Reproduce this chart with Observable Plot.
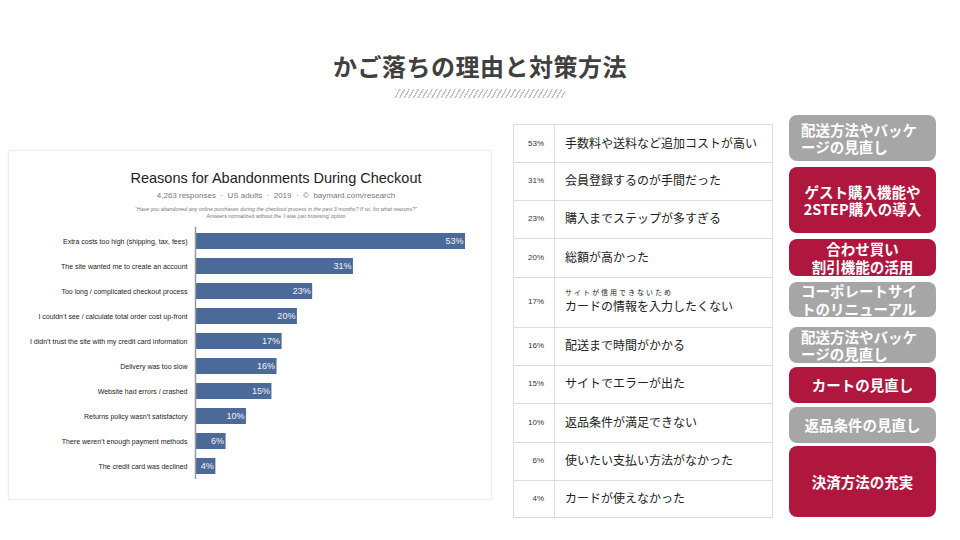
<!DOCTYPE html>
<html><head><meta charset="utf-8">
<script src="https://cdn.jsdelivr.net/npm/d3@7"></script>
<script src="https://cdn.jsdelivr.net/npm/@observablehq/plot@0.6"></script>
<style>
body{margin:0;background:#fff;}
#slide{position:relative;width:960px;height:540px;overflow:hidden;font-family:"Noto Sans CJK JP",sans-serif;background:#fff;}
.abs{position:absolute;}
#title{left:0;width:960px;top:48px;text-align:center;font-size:24px;font-weight:700;color:#404040;letter-spacing:0.5px;}
#hatch{left:395px;top:89px;width:170px;height:9px;background:repeating-linear-gradient(-60deg,transparent 0 2.6px,#c4c4c4 2.6px 4px);}
#card{left:8px;top:150px;width:484px;height:350px;border:1px solid #ececec;box-shadow:0 0 2px rgba(0,0,0,0.06);background:#fff;box-sizing:border-box;}
.en{font-family:"Liberation Sans",Arial,sans-serif;text-align:center;white-space:nowrap;}
.row{left:513px;width:260px;box-sizing:border-box;border:1px solid #dcdcdc;border-top:none;}
.pct{position:absolute;left:0;width:30px;text-align:right;font-family:"Liberation Sans",Arial,sans-serif;font-size:8px;color:#333;}
.vline{position:absolute;left:40px;top:0;bottom:0;border-left:1px solid #dcdcdc;}
.ja{position:absolute;left:51px;font-size:12px;color:#222;white-space:nowrap;}
.box{left:789px;width:147px;border-radius:8px;color:#fff;font-weight:700;font-size:14.5px;line-height:17.5px;display:flex;flex-direction:column;justify-content:center;box-sizing:border-box;white-space:nowrap;}
</style></head><body><div id="slide"></div>
<script>
// ---- data ----
const reasons = [
  "Extra costs too high (shipping, tax, fees)",
  "The site wanted me to create an account",
  "Too long / complicated checkout process",
  "I couldn\u2019t see / calculate total order cost up-front",
  "I didn\u2019t trust the site with my credit card information",
  "Delivery was too slow",
  "Website had errors / crashed",
  "Returns policy wasn\u2019t satisfactory",
  "There weren\u2019t enough payment methods",
  "The credit card was declined"
];
const shares = [53, 31, 23, 20, 17, 16, 15, 10, 6, 4];
const reasonsJa = [
  "手数料や送料など追加コストが高い",
  "会員登録するのが手間だった",
  "購入までステップが多すぎる",
  "総額が高かった",
  "カードの情報を入力したくない",
  "配送まで時間がかかる",
  "サイトでエラーが出た",
  "返品条件が満足できない",
  "使いたい支払い方法がなかった",
  "カードが使えなかった"
];
const reasonsJaNote = ["", "", "", "", "サイトが信用できないため", "", "", "", "", ""];
const remedies = [
  ["配送方法やバッケ", "ージの見直し"],
  ["ゲスト購入機能や", "2STEP購入の導入"],
  ["合わせ買い", "割引機能の活用"],
  ["コーポレートサイ", "トのリニューアル"],
  ["配送方法やバッケ", "ージの見直し"],
  ["カートの見直し"],
  ["返品条件の見直し"],
  ["決済方法の充実"]
];
const remedyPriority = ["low", "high", "high", "low", "low", "high", "low", "high"];
const chartTitle = "Reasons for Abandonments During Checkout";
const chartSubtitle = "4,263 responses \u00a0\u00b7\u00a0 US adults \u00a0\u00b7\u00a0 2019 \u00a0\u00b7\u00a0 \u00a9 \u00a0baymard.com/research";
const chartQuote = "\u201cHave you abandoned any online purchases during the checkout process in the past 3 months? If so, for what reasons?\u201d";
const chartNote = "Answers normalized without the \u2018I was just browsing\u2019 option";
const slideTitle = "かご落ちの理由と対策方法";

// ---- layout ----
const slide = document.getElementById("slide");
function el(cls, id, css, html) {
  const d = document.createElement("div");
  d.className = "abs " + (cls || "");
  if (id) d.id = id;
  if (css) d.style.cssText = css;
  if (html !== undefined) d.textContent = html;
  slide.appendChild(d);
  return d;
}
el("", "title", "", slideTitle);
el("", "hatch", "");
el("", "card", "");
el("en", null, "left:126px;width:300px;top:170px;font-size:14.5px;color:#222;", chartTitle);
el("en", null, "left:126px;width:300px;top:191px;font-size:8px;color:#777;", chartSubtitle);
el("en", null, "left:76px;width:400px;top:206px;font-size:5.3px;color:#777;font-style:italic;", chartQuote);
el("en", null, "left:76px;width:400px;top:213px;font-size:5.3px;color:#777;", chartNote);

// bar chart
const data = reasons.map((r, i) => ({reason: r, share: shares[i]}));
const chart = Plot.plot({
  width: 484, height: 262,
  marginLeft: 187, marginRight: 27, marginTop: 5, marginBottom: 5,
  x: {domain: [0, 53], axis: null},
  y: {domain: reasons, paddingInner: 0.36, paddingOuter: 0.2, label: null},
  style: {fontFamily: "Liberation Sans, Arial, sans-serif", fontSize: "7px", color: "#222", background: "transparent"},
  marks: [
    Plot.barX(data, {x: "share", y: "reason", fill: "#4b6a99"}),
    Plot.text(data, {x: "share", y: "reason", text: d => d.share + "%", textAnchor: "end", dx: -2, fill: "#f2f4f8", fontSize: 9}),
    Plot.axisY({tickSize: 0, tickPadding: 8, label: null, fontSize: 7}),
    Plot.ruleX([0], {stroke: "#9a9a9a", strokeWidth: 1.5})
  ]
});
const holder = el("", null, "left:8px;top:222px;width:484px;height:262px;");
holder.appendChild(chart);

// table
const rowEdges = [124, 162, 200, 238, 277, 327, 365, 403, 442, 480, 517];
reasonsJa.forEach((t, i) => {
  const top = rowEdges[i], h = rowEdges[i + 1] - top;
  const r = el("row", null, `top:${top}px;height:${h + 1}px;` + (i === 0 ? "border-top:1px solid #dcdcdc;" : ""));
  const p = document.createElement("div");
  p.className = "pct"; p.style.top = (h / 2 - 5) + "px"; p.textContent = shares[i] + "%";
  r.appendChild(p);
  const v = document.createElement("div"); v.className = "vline"; r.appendChild(v);
  if (reasonsJaNote[i]) {
    const n = document.createElement("div");
    n.className = "ja"; n.style.cssText = `top:${h / 2 - 15}px;font-size:7px;letter-spacing:2px;`;
    n.textContent = reasonsJaNote[i]; r.appendChild(n);
    const j = document.createElement("div");
    j.className = "ja"; j.style.top = (h / 2 - 5) + "px"; j.textContent = t; r.appendChild(j);
  } else {
    const j = document.createElement("div");
    j.className = "ja"; j.style.top = (h / 2 - 10) + "px"; j.textContent = t; r.appendChild(j);
  }
});

// remedy boxes
const boxEdges = [[115, 161], [167, 233], [239, 276], [282, 317], [327, 363], [367, 403], [407, 443], [446, 517]];
const leftAligned = [true, false, false, true, true, false, false, false];
remedies.forEach((lines, i) => {
  const [t, b] = boxEdges[i];
  const color = remedyPriority[i] === "high" ? "#b0173f" : "#a6a6a6";
  const bx = el("box", null, `top:${t}px;height:${b - t}px;background:${color};` +
    (leftAligned[i] ? "text-align:left;padding-left:12px;" : "text-align:center;"));
  lines.forEach(l => { const s = document.createElement("div"); s.textContent = l; bx.appendChild(s); });
});
</script>
</body></html>
